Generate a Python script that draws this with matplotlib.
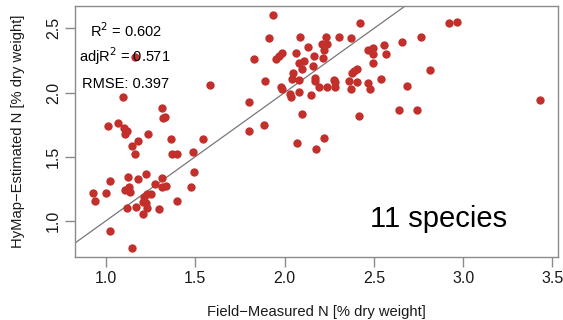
import matplotlib
matplotlib.use("Agg")
import matplotlib.pyplot as plt

plt.rcParams['font.family'] = ['Liberation Sans', 'DejaVu Sans']

# field-measured vs HyMap-estimated foliar N (% dry weight)
field_n = [
    1.162, 1.097, 1.010, 1.069, 1.102, 1.116, 1.106, 1.312, 1.330, 1.321,
    1.233, 1.144, 1.181, 1.364, 1.162, 1.368, 1.396, 1.489, 1.125, 1.181,
    1.224, 1.315, 1.494, 1.022, 0.929, 0.998, 0.940, 1.106, 1.131, 1.134,
    1.274, 1.312, 1.334, 1.476, 1.228, 1.250, 1.213, 1.209, 1.222, 1.399,
    1.116, 1.168, 1.228, 1.297, 1.209, 1.022, 1.147,
    1.933, 1.914, 2.086, 2.232, 2.305, 2.372, 2.422, 2.129, 2.208, 2.240,
    2.222, 2.064, 1.984, 1.969, 1.952, 1.830, 2.166, 2.213, 2.082, 2.110,
    2.161, 2.099, 2.049, 2.040, 2.081, 2.170, 2.170, 2.277, 2.284, 2.361,
    2.404, 2.376, 2.390, 2.404, 2.465, 2.493, 2.497, 2.493, 2.465, 2.478,
    2.540, 1.890, 1.980, 1.984, 2.030, 2.036, 2.081, 2.148, 2.193, 2.236,
    2.284, 2.372, 1.580, 1.800, 2.096, 2.418, 1.885, 1.800, 1.543, 2.221,
    2.068, 2.174,
    2.920, 2.967, 2.762, 2.659, 2.557, 2.566, 2.816, 2.684, 2.642, 2.743,
    3.430,
]
hymap_n = [
    2.275, 1.965, 1.739, 1.764, 1.720, 1.700, 1.680, 1.877, 1.810, 1.800,
    1.674, 1.585, 1.622, 1.635, 1.520, 1.520, 1.520, 1.538, 1.343, 1.325,
    1.364, 1.331, 1.378, 1.310, 1.220, 1.218, 1.154, 1.239, 1.260, 1.226,
    1.284, 1.265, 1.270, 1.260, 1.208, 1.206, 1.187, 1.148, 1.136, 1.156,
    1.100, 1.105, 1.100, 1.090, 1.052, 0.922, 0.790,
    2.602, 2.423, 2.435, 2.430, 2.430, 2.427, 2.540, 2.353, 2.376, 2.376,
    2.332, 2.306, 2.306, 2.285, 2.259, 2.259, 2.285, 2.267, 2.232, 2.246,
    2.209, 2.181, 2.155, 2.105, 2.098, 2.110, 2.092, 2.098, 2.084, 2.092,
    2.084, 2.150, 2.170, 2.183, 2.332, 2.350, 2.300, 2.232, 2.072, 2.025,
    2.105, 2.090, 2.040, 2.025, 1.986, 1.963, 2.006, 1.980, 2.040, 2.040,
    2.040, 2.025, 2.056, 1.928, 1.830, 1.814, 1.746, 1.700, 1.635, 1.647,
    1.608, 1.557,
    2.540, 2.552, 2.430, 2.396, 2.370, 2.300, 2.177, 2.051, 1.864, 1.864,
    1.939,
]

x_ticks = [1.0, 1.5, 2.0, 2.5, 3.0, 3.5]
y_ticks = [1.0, 1.5, 2.0, 2.5]
stats = ["R$^2$ = 0.602", "adjR$^2$ = 0.571", "RMSE: 0.397"]

W, H = 563, 320
fig = plt.figure(figsize=(W / 100, H / 100), dpi=100)
ax = fig.add_axes([75 / W, 1 - 257 / H, 483 / W, 251 / H])

ax.scatter(field_n, hymap_n, s=36, color='#c3302b', linewidths=0, zorder=3)
# 1:1 line
ax.axline((0, 0), slope=1, color='#777777', lw=0.9, zorder=2)

ax.set_xlim(0.826, 3.531)
ax.set_ylim(0.717, 2.675)
ax.set_xticks(x_ticks)
ax.set_yticks(y_ticks)
ax.set_xticklabels([f"{v:.1f}" for v in x_ticks], fontsize=11.5)
ax.set_yticklabels([f"{v:.1f}" for v in y_ticks], fontsize=11.5,
                   rotation=90, va='center')
ax.tick_params(axis='both', length=7, width=1, color='#8a8a8a',
               labelcolor='#1a1a1a')
ax.tick_params(axis='x', pad=3)
ax.tick_params(axis='y', pad=3)
for sp in ax.spines.values():
    sp.set_color('#8a8a8a')
    sp.set_linewidth(1)

ax.set_xlabel("Field\u2212Measured N [% dry weight]", fontsize=10.6,
              color='#1a1a1a', labelpad=14)
ax.set_ylabel("HyMap\u2212Estimated N [% dry weight]", fontsize=10.6,
              color='#1a1a1a', labelpad=15)

# fit statistics, upper left
for (px, py), s in zip([(90, 31), (79, 56), (82, 84)], stats):
    fig.text(px / W, 1 - py / H, s, fontsize=10.5, va='center')

fig.text(370 / W, 1 - 227 / H, "11 species", fontsize=21,
         ha='left', va='baseline')

fig.savefig("out.png", dpi=100)
